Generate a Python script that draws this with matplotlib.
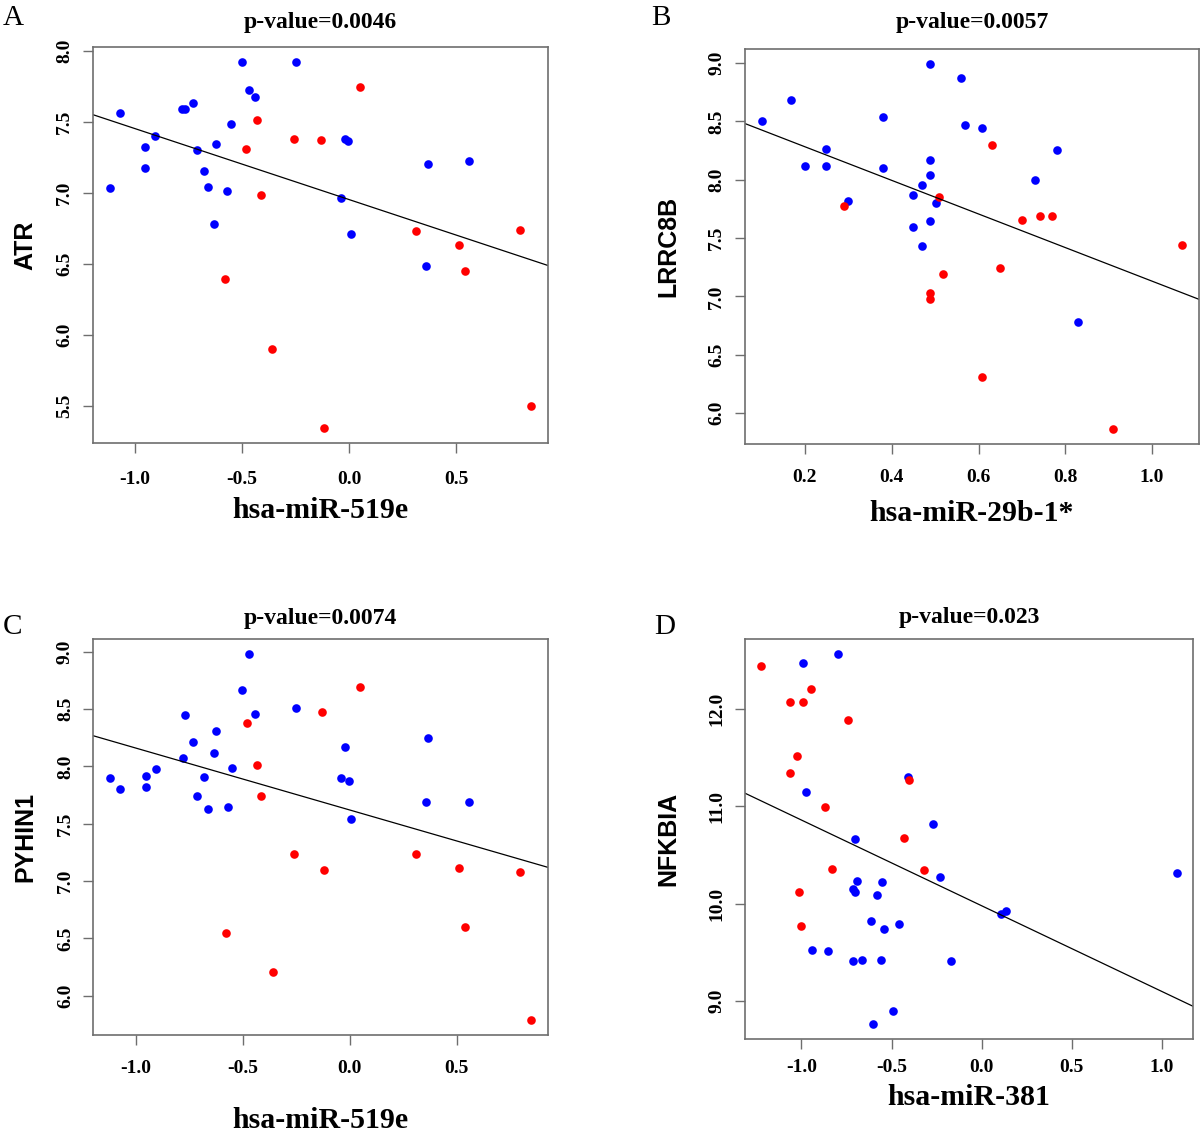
import matplotlib
matplotlib.use("Agg")
import matplotlib.pyplot as plt
import numpy as np

plt.rcParams['axes.unicode_minus'] = False

# hsa-miR-519e (shared by panels A and C)
mir519e_blue = [-1.119, -1.072, -0.952, -0.952, -0.907, -0.780, -0.768, -0.731, -0.713, -0.680,
                -0.661, -0.632, -0.623, -0.570, -0.551, -0.502, -0.468, -0.441, -0.249, -0.038,
                -0.020, -0.004, 0.008, 0.358, 0.368, 0.559]
atr_blue = [7.03, 7.56, 7.32, 7.17, 7.40, 7.585, 7.59, 7.63, 7.30, 7.15,
            7.04, 6.78, 7.345, 7.01, 7.48, 7.92, 7.725, 7.67, 7.92, 6.96,
            7.38, 7.36, 6.71, 6.48, 7.20, 7.22]
pyhin1_blue = [7.90, 7.80, 7.92, 7.82, 7.98, 8.07, 8.445, 8.21, 7.74, 7.91,
               7.63, 8.12, 8.31, 7.65, 7.99, 8.67, 8.98, 8.46, 8.51, 7.90,
               8.17, 7.87, 7.54, 7.69, 8.25, 7.69]

mir519e_red = [-0.580, -0.480, -0.431, -0.412, -0.360, -0.259, -0.130, -0.120, 0.049, 0.310,
               0.511, 0.541, 0.798, 0.849]
atr_red = [6.39, 7.31, 7.51, 6.98, 5.895, 7.375, 7.37, 5.34, 7.745, 6.73,
           6.63, 6.445, 6.735, 5.50]
pyhin1_red = [6.55, 8.38, 8.01, 7.74, 6.205, 7.235, 8.47, 7.10, 8.695, 7.235,
              7.11, 6.60, 7.08, 5.785]

# hsa-miR-29b-1* vs LRRC8B (panel B)
mir29b_blue = [0.100, 0.169, 0.199, 0.248, 0.248, 0.300, 0.381, 0.381, 0.448, 0.470,
               0.489, 0.489, 0.489, 0.501, 0.448, 0.489, 0.470, 0.559, 0.569, 0.609,
               0.781, 0.730, 0.830]
lrrc8b_blue = [8.50, 8.68, 8.12, 8.26, 8.115, 7.82, 8.535, 8.10, 7.87, 7.955,
               8.995, 8.17, 8.04, 7.80, 7.59, 7.645, 7.43, 8.87, 8.47, 8.44,
               8.255, 8.00, 6.78]
mir29b_red = [0.289, 0.510, 0.519, 0.489, 0.489, 0.630, 0.700, 0.741, 0.770, 0.649,
              1.070, 0.609, 0.911]
lrrc8b_red = [7.775, 7.855, 7.195, 7.03, 6.975, 8.30, 7.655, 7.685, 7.685, 7.245,
              7.44, 6.305, 5.86]

# hsa-miR-381 vs NFKBIA (panel D)
mir381_blue = [-0.992, -0.795, -0.974, -0.411, -0.272, -0.704, -0.232, -0.691, -0.551, -0.715,
               -0.704, -0.582, -0.614, -0.542, -0.460, -0.942, -0.852, -0.714, -0.664, -0.558,
               -0.172, -0.492, -0.601, 0.110, 0.138, 1.083]
nfkbia_blue = [12.47, 12.57, 11.15, 11.30, 10.82, 10.67, 10.28, 10.235, 10.22, 10.15,
               10.125, 10.095, 9.82, 9.745, 9.79, 9.53, 9.52, 9.41, 9.425, 9.42,
               9.415, 8.895, 8.76, 9.895, 9.925, 10.315]
mir381_red = [-1.223, -0.945, -1.064, -0.992, -0.741, -1.024, -1.064, -0.870, -0.402, -0.431,
              -0.830, -0.322, -1.014, -1.002]
nfkbia_red = [12.445, 12.21, 12.07, 12.07, 11.89, 11.52, 11.34, 10.99, 11.27, 10.675,
              10.36, 10.35, 10.125, 9.77]

# regression lines (intercept, slope) and p-values
fits = {'A': (6.95, -0.50), 'B': (8.57, -1.44), 'C': (7.62, -0.54), 'D': (9.98, -0.88)}
pvalues = {'A': '0.0046', 'B': '0.0057', 'C': '0.0074', 'D': '0.023'}

panels = [
    ('A', mir519e_blue, atr_blue, mir519e_red, atr_red, 'hsa-miR-519e', 'ATR',
     [-1.0, -0.5, 0.0, 0.5], np.arange(5.5, 8.01, 0.5)),
    ('B', mir29b_blue, lrrc8b_blue, mir29b_red, lrrc8b_red, 'hsa-miR-29b-1*', 'LRRC8B',
     [0.2, 0.4, 0.6, 0.8, 1.0], np.arange(6.0, 9.01, 0.5)),
    ('C', mir519e_blue, pyhin1_blue, mir519e_red, pyhin1_red, 'hsa-miR-519e', 'PYHIN1',
     [-1.0, -0.5, 0.0, 0.5], np.arange(6.0, 9.01, 0.5)),
    ('D', mir381_blue, nfkbia_blue, mir381_red, nfkbia_red, 'hsa-miR-381', 'NFKBIA',
     [-1.0, -0.5, 0.0, 0.5, 1.0], [9.0, 10.0, 11.0, 12.0]),
]

# layout per panel: axes rect, title y, xlabel y, ylabel x, tick pad, letter position
layout = {
    'A': ([0.0773, 0.6101, 0.3794, 0.3483], 1.063, -0.172, -0.149, 13, (0.002, 0.984)),
    'B': ([0.6206, 0.6092, 0.3788, 0.3477], 1.068, -0.175, -0.169, 11, (0.543, 0.984)),
    'C': ([0.0778, 0.0889, 0.3789, 0.3483], 1.053, -0.215, -0.150, 11, (0.002, 0.448)),
    'D': ([0.6206, 0.0851, 0.3738, 0.3526], 1.052, -0.145, -0.171, 7, (0.545, 0.448)),
}

serif = 'Liberation Serif'
sans = 'Liberation Sans'
spine_color = '#6e6e6e'

fig = plt.figure(figsize=(12, 11.36), dpi=100)

for key, xb, yb, xr, yr, xlab, ylab, xticks, yticks in panels:
    rect, title_y, xlab_y, ylab_x, xpad, letter_pos = layout[key]
    ax = fig.add_axes(rect)

    ax.plot(xb, yb, 'o', color='#0000ff', markersize=6.2, markeredgewidth=0)
    ax.plot(xr, yr, 'o', color='#ff0000', markersize=6.2, markeredgewidth=0)

    # R style 4% padding
    allx = np.array(xb + xr)
    ally = np.array(yb + yr)
    dx = 0.04 * (allx.max() - allx.min())
    dy = 0.04 * (ally.max() - ally.min())
    ax.set_xlim(allx.min() - dx, allx.max() + dx)
    ax.set_ylim(ally.min() - dy, ally.max() + dy)

    a, b = fits[key]
    ax.axline((0, a), slope=b, color='black', linewidth=0.9)

    ax.set_xticks(xticks)
    ax.set_yticks(yticks)
    ax.set_xticklabels(['%.1f' % t for t in xticks])
    ax.set_yticklabels(['%.1f' % t for t in yticks], rotation=90, va='center')
    ax.tick_params(direction='out', length=7, width=1, color=spine_color)
    ax.tick_params(axis='x', pad=xpad)
    ax.tick_params(axis='y', pad=7)
    for lbl in ax.get_xticklabels() + ax.get_yticklabels():
        lbl.set_fontfamily(serif)
        lbl.set_fontweight('bold')
        lbl.set_fontsize(14)

    for sp in ax.spines.values():
        sp.set_color(spine_color)
        sp.set_linewidth(1.2)

    ax.set_title('p-value=' + pvalues[key], fontfamily=serif, fontweight='bold',
                 fontsize=17, y=title_y, va='center', pad=0)
    ax.set_xlabel(xlab, fontfamily=serif, fontweight='bold', fontsize=21.5)
    ax.xaxis.label.set_va('center')
    ax.xaxis.set_label_coords(0.5, xlab_y)
    ax.set_ylabel(ylab, fontfamily=sans, fontweight='bold', fontsize=18)
    ax.yaxis.label.set_va('center')
    ax.yaxis.set_label_coords(ylab_x, 0.5)

    fig.text(letter_pos[0], letter_pos[1], key, fontfamily=serif, fontsize=21,
             ha='left', va='center')

fig.savefig('out.png', dpi=100)
